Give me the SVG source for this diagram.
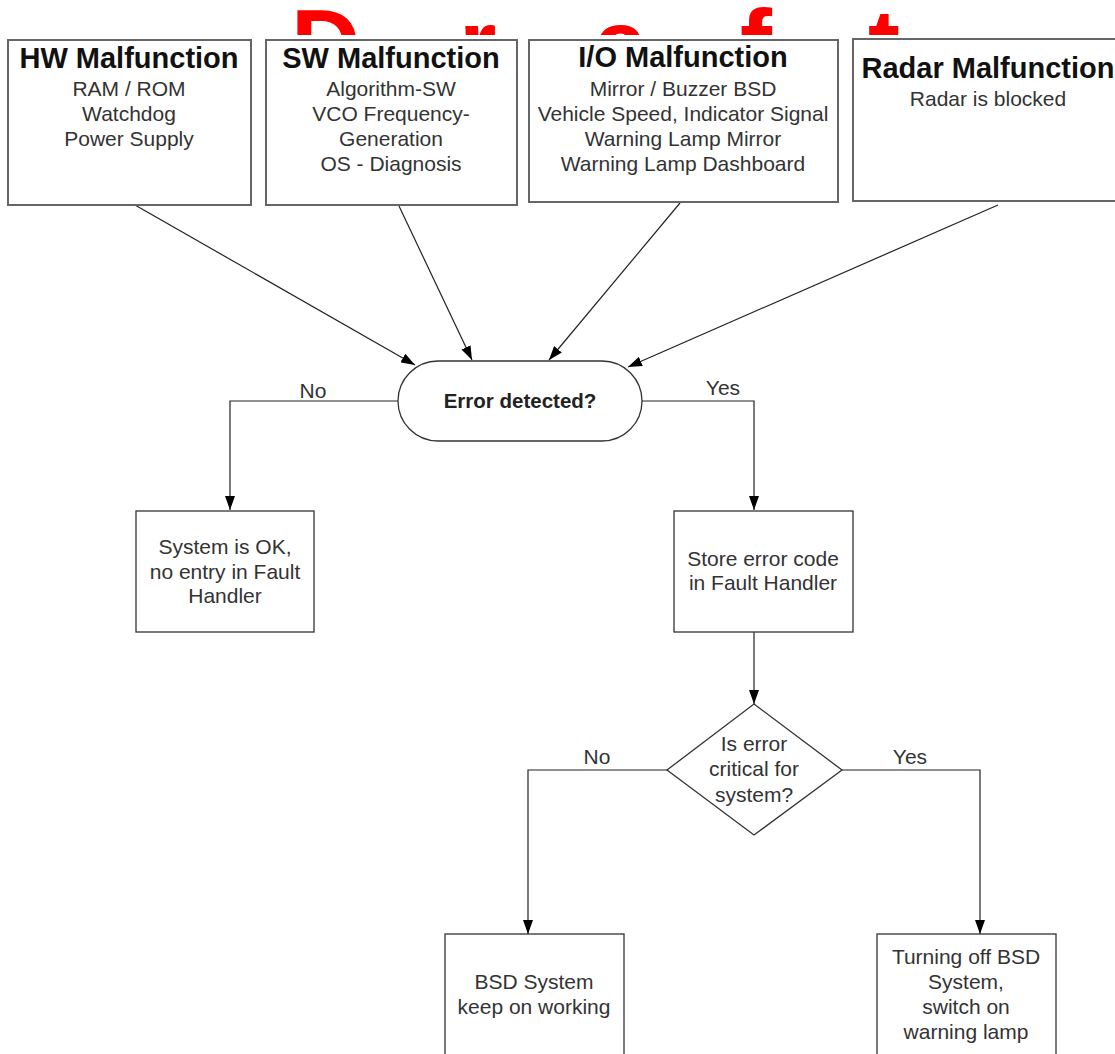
<svg xmlns="http://www.w3.org/2000/svg" width="1115" height="1054" viewBox="0 0 1115 1054">
<style>
.box{fill:#fff;stroke:#666;stroke-width:2}
.shape{fill:#fff;stroke:#333;stroke-width:1.3}
.t{font-family:"Liberation Sans",Arial,sans-serif;font-size:21px;fill:#333;text-anchor:middle}
.h{font-family:"Liberation Sans",Arial,sans-serif;font-size:29px;font-weight:bold;fill:#111;text-anchor:middle}
.b{font-family:"Liberation Sans",Arial,sans-serif;font-size:20.5px;font-weight:bold;fill:#222;text-anchor:middle}
.c{fill:none;stroke:#222;stroke-width:1.2}
.draft{font-family:"Liberation Sans",Arial,sans-serif;font-size:96px;font-weight:bold;fill:#ff0000}
</style>
<defs>
<marker id="ah" viewBox="0 0 14 10" refX="14" refY="5" markerWidth="14" markerHeight="10" markerUnits="userSpaceOnUse" orient="auto">
<path d="M0,0 L14,5 L0,10 Z" fill="#000"/>
</marker>
<clipPath id="wm"><rect x="0" y="0" width="1115" height="35"/></clipPath>
</defs>
<rect width="1115" height="1054" fill="#fff"/>
<text class="draft" x="291 459 594 740 868" y="77" clip-path="url(#wm)">Draft</text>

<g id="connectors">
<line class="c" x1="135" y1="205" x2="415" y2="365" marker-end="url(#ah)"/>
<line class="c" x1="399" y1="206" x2="472" y2="360" marker-end="url(#ah)"/>
<line class="c" x1="680" y1="203" x2="549" y2="360" marker-end="url(#ah)"/>
<line class="c" x1="998" y1="205" x2="628" y2="367" marker-end="url(#ah)"/>
<polyline class="c" points="398,401 230,401 230,510" marker-end="url(#ah)"/>
<polyline class="c" points="642,401 754,401 754,510" marker-end="url(#ah)"/>
<line class="c" x1="754" y1="632" x2="754" y2="704" marker-end="url(#ah)"/>
<polyline class="c" points="667,770 528,770 528,934" marker-end="url(#ah)"/>
<polyline class="c" points="842,770 980,770 980,934" marker-end="url(#ah)"/>
<text class="t" x="313" y="398">No</text>
<text class="t" x="723" y="395">Yes</text>
<text class="t" x="597" y="764">No</text>
<text class="t" x="910" y="764">Yes</text>
</g>

<g id="hw">
<rect class="box" x="8" y="40" width="243" height="165"/>
<text class="h" x="129" y="68">HW Malfunction</text>
<text class="t" x="129" y="96">RAM / ROM</text>
<text class="t" x="129" y="121">Watchdog</text>
<text class="t" x="129" y="146">Power Supply</text>
</g>
<g id="sw">
<rect class="box" x="266" y="40" width="251" height="165"/>
<text class="h" x="391" y="68">SW Malfunction</text>
<text class="t" x="391" y="96">Algorithm-SW</text>
<text class="t" x="391" y="121">VCO Frequency-</text>
<text class="t" x="391" y="146">Generation</text>
<text class="t" x="391" y="171">OS - Diagnosis</text>
</g>
<g id="io">
<rect class="box" x="529" y="40" width="309" height="162"/>
<text class="h" x="683" y="67">I/O Malfunction</text>
<text class="t" x="683" y="96">Mirror / Buzzer BSD</text>
<text class="t" x="683" y="121">Vehicle Speed, Indicator Signal</text>
<text class="t" x="683" y="146">Warning Lamp Mirror</text>
<text class="t" x="683" y="171">Warning Lamp Dashboard</text>
</g>
<g id="radar">
<rect class="box" x="853" y="39" width="275" height="162"/>
<text class="h" x="988" y="78">Radar Malfunction</text>
<text class="t" x="988" y="106">Radar is blocked</text>
</g>
<g id="error">
<rect class="shape" x="398" y="361" width="244" height="80" rx="40" ry="40"/>
<text class="b" x="520" y="408">Error detected?</text>
</g>
<g id="ok">
<rect class="shape" x="136" y="511" width="178" height="121"/>
<text class="t" x="225" y="554">System is OK,</text>
<text class="t" x="225" y="579">no entry in Fault</text>
<text class="t" x="225" y="603">Handler</text>
</g>
<g id="store">
<rect class="shape" x="674" y="511" width="179" height="121"/>
<text class="t" x="763" y="566">Store error code</text>
<text class="t" x="763" y="590">in Fault Handler</text>
</g>
<g id="critical">
<polygon class="shape" points="754,704 842,770 754,835 667,770"/>
<text class="t" x="754" y="751">Is error</text>
<text class="t" x="754" y="776">critical for</text>
<text class="t" x="754" y="802">system?</text>
</g>
<g id="keep">
<rect class="shape" x="445" y="934" width="179" height="130"/>
<text class="t" x="534" y="989">BSD System</text>
<text class="t" x="534" y="1014">keep on working</text>
</g>
<g id="off">
<rect class="shape" x="877" y="934" width="179" height="130"/>
<text class="t" x="966" y="964">Turning off BSD</text>
<text class="t" x="966" y="989">System,</text>
<text class="t" x="966" y="1014">switch on</text>
<text class="t" x="966" y="1039">warning lamp</text>
</g>
</svg>
